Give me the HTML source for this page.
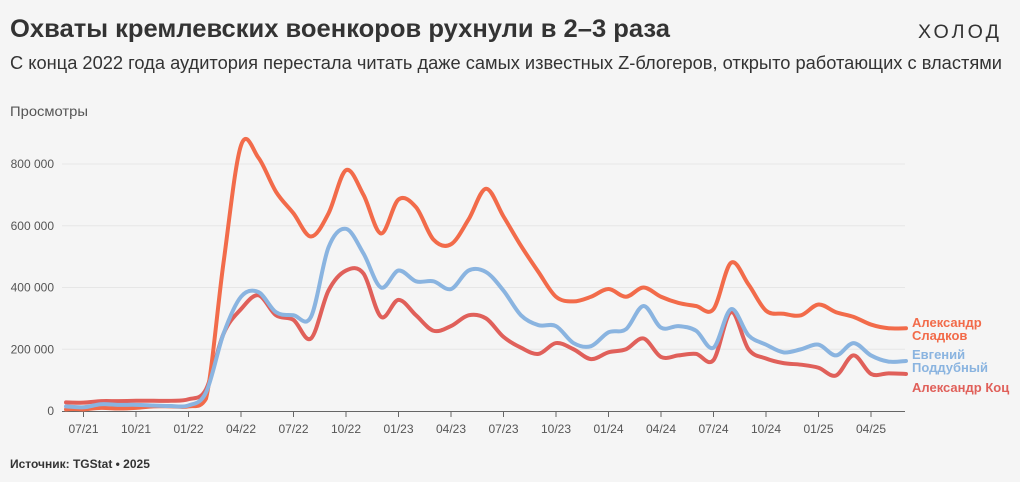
<!DOCTYPE html>
<html><head><meta charset="utf-8"><style>
html,body{margin:0;padding:0;background:#f5f5f5;}
svg{display:block;font-family:"Liberation Sans",sans-serif;}
</style></head><body>
<svg id="c" width="1020" height="482" viewBox="0 0 1020 482">
<rect width="1020" height="482" fill="#f5f5f5"/>
<text x="10" y="37" font-size="25" font-weight="bold" fill="#333" textLength="660" lengthAdjust="spacingAndGlyphs">Охваты кремлевских военкоров рухнули в 2–3 раза</text>
<text x="918" y="38" font-size="19" fill="#333" letter-spacing="3" textLength="84" lengthAdjust="spacingAndGlyphs">ХОЛОД</text>
<text x="10" y="69" font-size="18" fill="#333" textLength="992" lengthAdjust="spacingAndGlyphs">С конца 2022 года аудитория перестала читать даже самых известных Z-блогеров, открыто работающих с властями</text>
<text x="10" y="116" font-size="14" fill="#555" textLength="78" lengthAdjust="spacingAndGlyphs">Просмотры</text>
<g id="grid"></g><g id="xaxis"></g><g id="series"></g>
<text x="912" y="327" font-size="13" font-weight="bold" fill="#f26b4a"><tspan x="912">Александр</tspan><tspan x="912" dy="13">Сладков</tspan></text>
<text x="912" y="359" font-size="13" font-weight="bold" fill="#8ab4e0"><tspan x="912">Евгений</tspan><tspan x="912" dy="13">Поддубный</tspan></text>
<text x="912" y="392" font-size="13" font-weight="bold" fill="#e0605a">Александр Коц</text>
<text x="10" y="468" font-size="12" font-weight="bold" fill="#333">Источник: TGStat • 2025</text>
</svg>
<script>
const yTicks=[0,200000,400000,600000,800000];
const yTickLabels=["0","200 000","400 000","600 000","800 000"];
const xTickLabels=["07/21","10/21","01/22","04/22","07/22","10/22","01/23","04/23","07/23","10/23","01/24","04/24","07/24","10/24","01/25","04/25"];
// monthly values (thousands), 06/21 .. 06/25
const sladkov=[5,5,10,8,10,15,15,15,40,480,860,820,710,640,565,640,780,700,575,685,660,555,540,620,720,630,535,450,370,355,370,395,370,400,370,350,340,330,480,410,325,315,310,345,320,305,280,268,268];
const poddubny=[15,12,22,20,20,18,16,18,60,250,370,385,320,310,305,530,590,510,400,455,420,420,395,455,450,390,310,278,275,220,210,255,265,340,270,275,260,205,330,245,215,190,200,215,180,220,180,160,162];
const kots=[28,27,32,32,33,33,33,38,70,250,330,375,310,295,235,390,455,445,305,360,310,260,275,310,300,240,205,185,220,200,168,190,200,235,175,180,185,165,320,200,170,155,150,140,115,180,120,122,120];
const NS="http://www.w3.org/2000/svg";
const x=i=>66+17.5*i; // i=0 -> 06/21
const y=v=>411-v*1000/800000*247;
function mk(t,a,p){const e=document.createElementNS(NS,t);for(const k in a)e.setAttribute(k,a[k]);p.appendChild(e);return e;}
const grid=document.getElementById('grid');
yTicks.forEach((t,i)=>{
 if(t>0){const l=mk('line',{x1:62,x2:905,y1:y(t/1000),y2:y(t/1000),stroke:'#e6e6e6','stroke-width':1},grid);
 
 }
 const tx=mk('text',{x:54,y:y(t/1000)+4,'font-size':12,fill:'#555','text-anchor':'end'},grid);
 tx.textContent=yTickLabels[i];
 
 
});
const xa=document.getElementById('xaxis');
const ax=mk('line',{x1:62,x2:905,y1:411.5,y2:411.5,stroke:'#666','stroke-width':1},xa);


xTickLabels.forEach((s,i)=>{
 const px=x(1+3*i);
 const tk=mk('line',{x1:px,x2:px,y1:411,y2:417,stroke:'#666'},xa);
 
 
 const t=mk('text',{x:px,y:433,'font-size':12,fill:'#555','text-anchor':'middle'},xa);
 t.textContent=s;
 
 
});
function path(d){
 const p=d.map((v,i)=>[x(i),y(v)]);
 let s='M'+p[0][0]+','+p[0][1];
 const cl=v=>Math.min(v,409);
 for(let i=0;i<p.length-1;i++){
  const p0=p[Math.max(i-1,0)],p1=p[i],p2=p[i+1],p3=p[Math.min(i+2,p.length-1)];
  const c1=[p1[0]+(p2[0]-p0[0])/6,cl(p1[1]+(p2[1]-p0[1])/6)];
  const c2=[p2[0]-(p3[0]-p1[0])/6,cl(p2[1]-(p3[1]-p1[1])/6)];
  s+=' C'+c1+' '+c2+' '+p2;
 }
 return s;
}
const sg=document.getElementById('series');
[[kots,'#e0605a','line-kots'],[sladkov,'#f26b4a','line-sladkov'],[poddubny,'#8ab4e0','line-poddubny']].forEach(([d,c,n])=>{
 const e=mk('path',{d:path(d),fill:'none',stroke:c,'stroke-width':4,'stroke-linejoin':'round','stroke-linecap':'round'},sg);
 
 
});
</script>
</body></html>
